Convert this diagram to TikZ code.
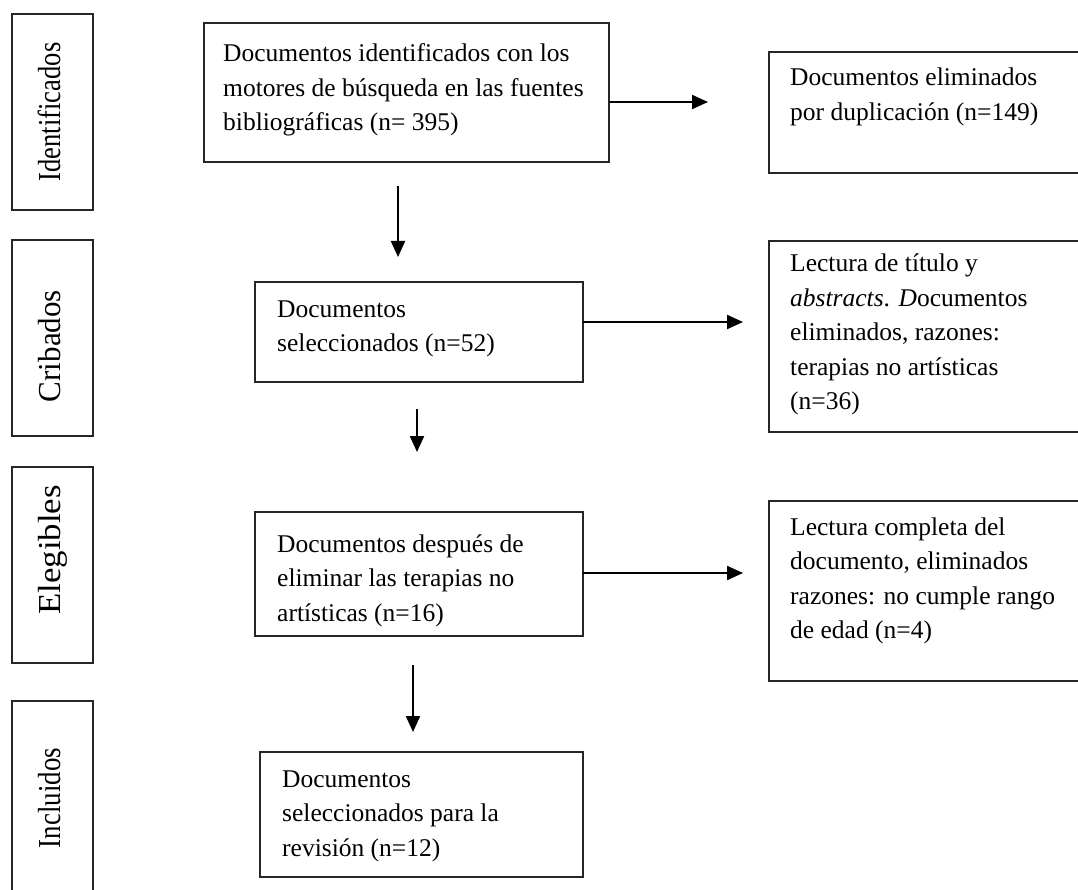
\documentclass[tikz,border=0pt]{standalone}
\usepackage{fontspec}
\setmainfont[Ligatures=NoCommon]{Liberation Serif}
\usetikzlibrary{arrows.meta}
\newcommand{\bodyfont}{\fontsize{25.5}{34.5}\selectfont}
\newcommand{\labfont}{\fontsize{32}{36}\selectfont}
\tikzset{
  box/.style={draw=black!85, line width=1.3pt, inner sep=0pt, outer sep=0pt, anchor=north west},
  txt/.style={anchor=base west, inner sep=0pt, font=\bodyfont},
  lab/.style={rotate=90, anchor=base, inner sep=0pt, font=\labfont},
  arr/.style={line width=2.2pt, -{Triangle[length=16pt,width=14pt]}}
}
\newcommand{\tl}[1]{\begin{tabular}[t]{@{}l@{}}#1\end{tabular}}
\begin{document}
\begin{tikzpicture}[x=1pt,y=-1pt]
\useasboundingbox (0,0) rectangle (1078,890);
\fill[white] (0,0) rectangle (1078,890);
\clip (0,0) rectangle (1078,890);

% stage labels
\node[box, minimum width=81pt, minimum height=196pt] (L1) at (12,14) {};
\node[box, minimum width=81pt, minimum height=196pt] (L2) at (12,240) {};
\node[box, minimum width=81pt, minimum height=196pt] (L3) at (12,467) {};
\node[box, minimum width=81pt, minimum height=200pt] (L4) at (12,701) {};
\node[lab] (t1) at (60,112) {\scalebox{0.83}[1]{Identificados}};
\node[lab] (t2) at (60,346) {\scalebox{0.97}[1]{Cribados}};
\node[lab] (t3) at (60,550) {\scalebox{1.09}[1]{Elegibles}};
\node[lab] (t4) at (60,798) {\scalebox{0.84}[1]{Incluidos}};

% main boxes
\node[box, minimum width=405pt, minimum height=139pt] (B1) at (204,23) {};
\node[box, minimum width=328pt, minimum height=100pt] (B2) at (255,282) {};
\node[box, minimum width=328pt, minimum height=124pt] (B3) at (255,512) {};
\node[box, minimum width=323pt, minimum height=125pt] (B4) at (260,752) {};

% right boxes
\node[box, minimum width=330pt, minimum height=121pt] (R1) at (769,52) {};
\node[box, minimum width=330pt, minimum height=191pt] (R2) at (769,241) {};
\node[box, minimum width=330pt, minimum height=180pt] (R3) at (769,501) {};

% texts
\node[txt] (x1) at (223,62) {\tl{Documentos identificados con los\\motores de búsqueda en las fuentes\\bibliográficas (n= 395)}};
\node[txt] (x2) at (277,317) {\tl{Documentos\\seleccionados (n=52)}};
\node[txt] (x3) at (277,552) {\tl{Documentos después de\\eliminar las terapias no\\artísticas (n=16)}};
\node[txt] (x4) at (282,787) {\tl{Documentos\\seleccionados para la\\revisión (n=12)}};
\node[txt] (y1) at (790,86) {\tl{Documentos eliminados\\por duplicación (n=149)}};
\node[txt] (y2) at (790,272) {\tl{Lectura de título y\\\textit{abstracts}. \textit{D}ocumentos\\eliminados, razones:\\terapias no artísticas\\(n=36)}};
\node[txt] (y3) at (790,535) {\tl{Lectura completa del\\documento, eliminados\\razones: no cumple rango\\de edad (n=4)}};

% arrow ends
\coordinate (h1) at (708,102);
\coordinate (h2) at (743,322);
\coordinate (h3) at (743,573);
\coordinate (v1s) at (398,186);
\coordinate (v1e) at (398,257);
\coordinate (v2s) at (417,409);
\coordinate (v2e) at (417,452);
\coordinate (v3s) at (413,665);
\coordinate (v3e) at (413,732);

\draw[arr] (B1.east |- h1) -- (h1);
\draw[arr] (B2.east |- h2) -- (h2);
\draw[arr] (B3.east |- h3) -- (h3);
\draw[arr] (v1s) -- (v1e);
\draw[arr] (v2s) -- (v2e);
\draw[arr] (v3s) -- (v3e);
\end{tikzpicture}
\end{document}
